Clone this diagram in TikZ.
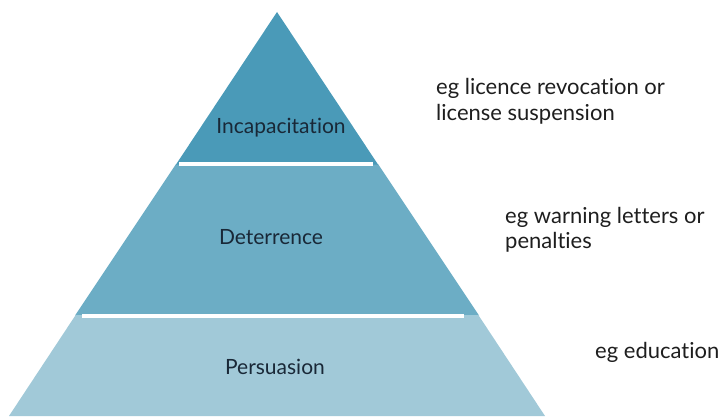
\documentclass[tikz,border=0pt]{standalone}
\usepackage{fontspec}
\setmainfont{Lato}[Ligatures={NoCommon}]
\definecolor{topc}{RGB}{74,154,184}
\definecolor{midc}{RGB}{108,173,197}
\definecolor{botc}{RGB}{161,201,216}
\definecolor{labc}{RGB}{25,40,55}
\definecolor{notec}{RGB}{30,30,30}
\begin{document}
\begin{tikzpicture}[x=1pt,y=1pt,
  lvl/.style={anchor=base, inner sep=0pt, font=\fontsize{21}{24}\selectfont, text=labc},
  note/.style={anchor=base west, inner sep=0pt, text=notec,
    font=\fontsize{22}{25}\selectfont},
  sep/.style={draw=white, line width=3.5pt}]
\useasboundingbox (0,0) rectangle (723,416);
% layers
\fill[botc] (9,0) -- (75,100) -- (479,100) -- (545,0) -- cycle;
\fill[midc] (75,100.5) -- (176,252) -- (378,252) -- (479,100.5) -- cycle;
\fill[topc] (176,251.5) -- (277,404) -- (378,251.5) -- cycle;
% separators
\coordinate (s1a) at (179,252);
\coordinate (s1b) at (373,252);
\coordinate (s2a) at (82,100);
\coordinate (s2b) at (464,100);
\draw[sep] (s1a) -- (s1b);
\draw[sep] (s2a) -- (s2b);
% labels
\node[lvl] (inc) at (281,283) {Incapacitation};
\node[lvl] (det) at (271,172) {Deterrence};
\node[lvl] (per) at (275,42) {Persuasion};
% notes
\node[note] (n1a) at (436,321) {eg licence revocation or};
\node[note] (n1b) at (436,296) {license suspension};
\node[note] (n2a) at (505,193) {eg warning letters or};
\node[note] (n2b) at (505,168) {penalties};
\node[note] (n3) at (595,58) {eg education};
\end{tikzpicture}
\end{document}
